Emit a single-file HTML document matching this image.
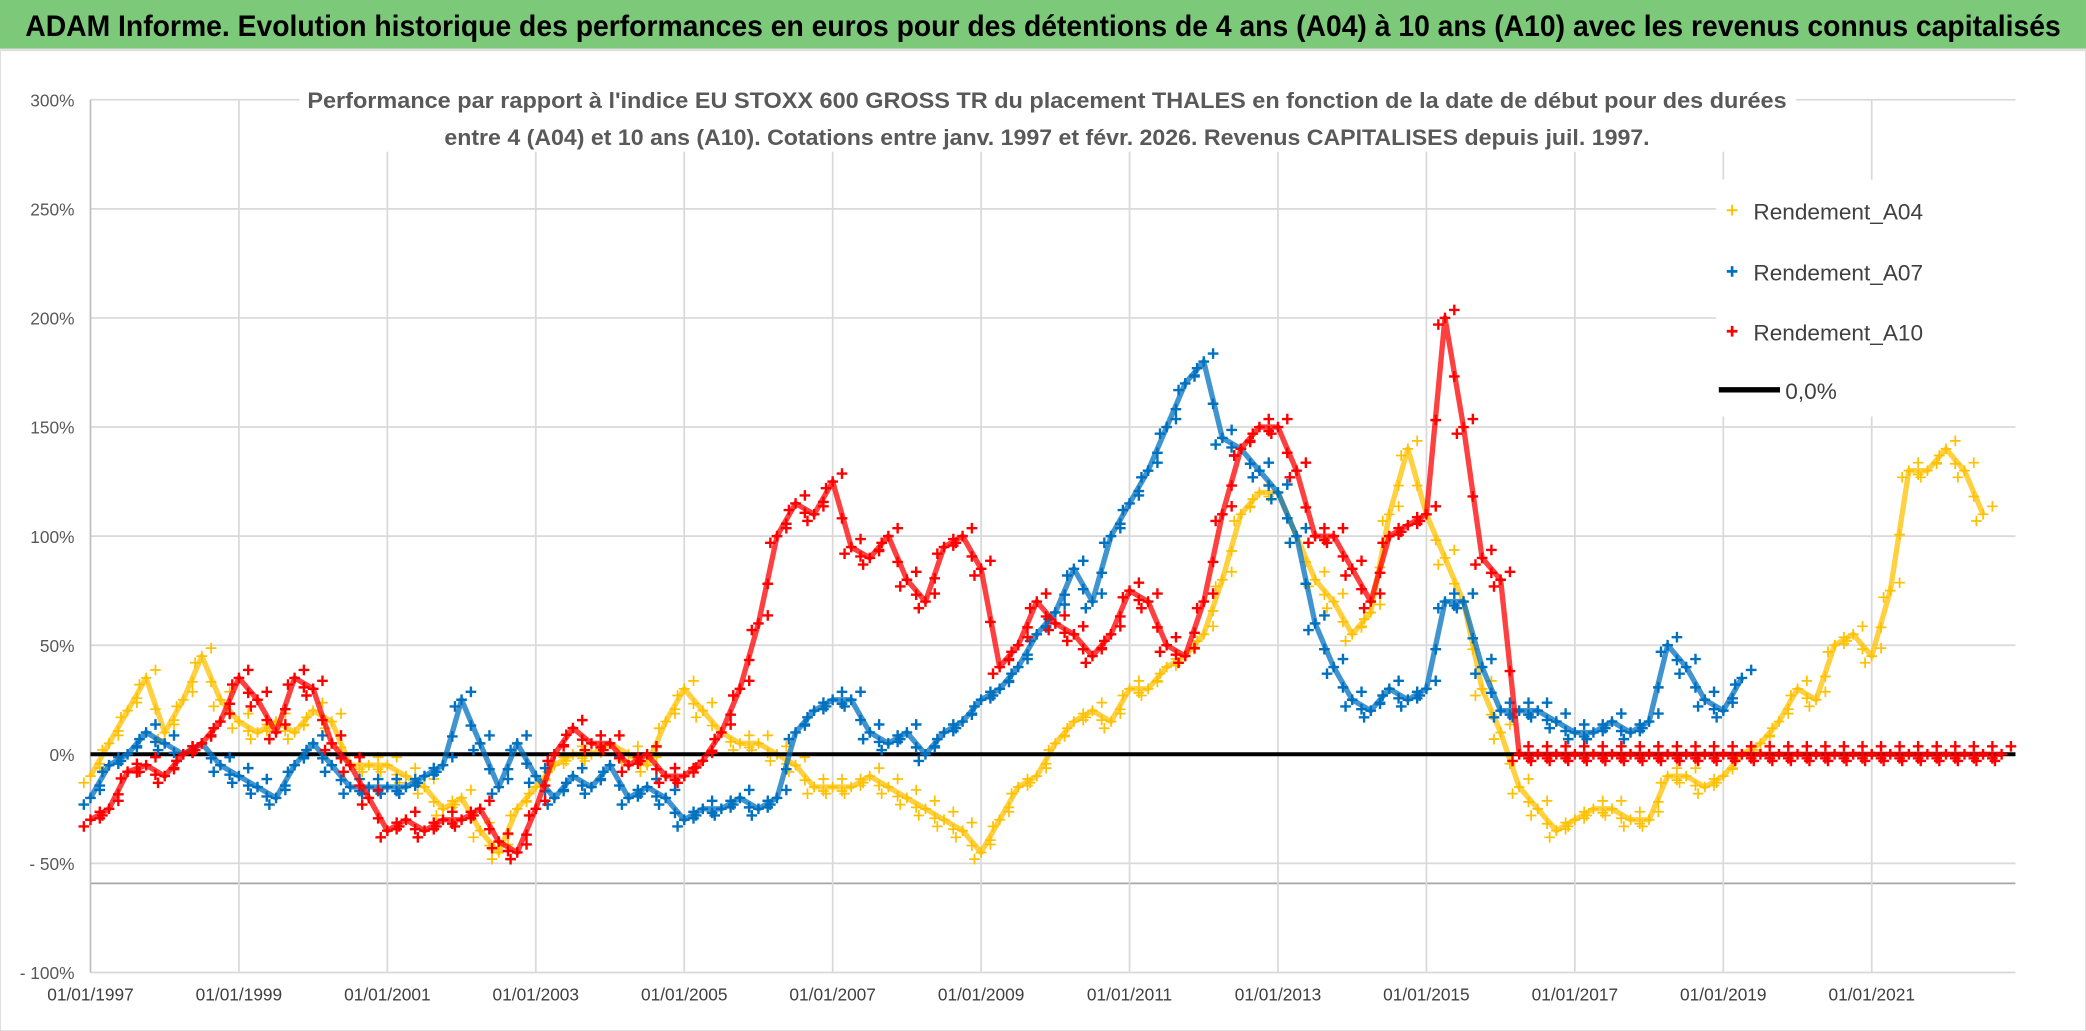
<!DOCTYPE html>
<html><head><meta charset="utf-8"><style>
html,body{margin:0;padding:0;background:#fff;}
svg{display:block;}
text{font-family:"Liberation Sans",sans-serif;}
</style></head><body>
<svg id="chart" width="2086" height="1031" viewBox="0 0 1568 775" xmlns="http://www.w3.org/2000/svg">
<rect x="0" y="0" width="1568" height="775" fill="#fff" stroke="#d0d0d0"/>
<rect x="0" y="0" width="1568" height="37" fill="#7dc97a"/>
<line x1="0" y1="37.5" x2="1568" y2="37.5" stroke="#e0e0e0" stroke-width="2"/>
<text x="784" y="27" text-anchor="middle" font-size="22" font-weight="bold" fill="#000" textLength="1530" lengthAdjust="spacingAndGlyphs">ADAM Informe. Evolution historique des performances en euros pour des détentions de 4 ans (A04) à 10 ans (A10) avec les revenus connus capitalisés</text>
<g id="grid"></g>
<g id="axes"></g>
<rect x="225" y="58" width="1125" height="56" fill="#fff"/>
<text x="787" y="81" text-anchor="middle" font-size="17" font-weight="bold" fill="#595959" textLength="1112" lengthAdjust="spacingAndGlyphs">Performance par rapport à l'indice EU STOXX 600 GROSS TR  du placement THALES en fonction de la date de début pour des durées</text>
<text x="787" y="109" text-anchor="middle" font-size="17" font-weight="bold" fill="#595959" textLength="906" lengthAdjust="spacingAndGlyphs">entre 4 (A04) et 10 ans (A10). Cotations entre janv. 1997 et févr. 2026. Revenus CAPITALISES depuis juil. 1997.</text>
<g id="series"></g>
<g>
<rect x="1290" y="135" width="226" height="178" fill="#fff"/>
<g><path d="M1298 158h8M1302 154v8" stroke="#ffc000" stroke-width="1.5"/><text x="1318" y="165" font-size="17" fill="#404040">Rendement_A04</text></g>
<g><path d="M1298 204h8M1302 200v8" stroke="#0070c0" stroke-width="2"/><text x="1318" y="211" font-size="17" fill="#404040">Rendement_A07</text></g>
<g><path d="M1298 249h8M1302 245v8" stroke="#ff0000" stroke-width="2"/><text x="1318" y="256" font-size="17" fill="#404040">Rendement_A10</text></g>
<g><line x1="1292" y1="293" x2="1338" y2="293" stroke="#000" stroke-width="4"/><text x="1342" y="300" font-size="17" fill="#404040">0,0%</text></g>
</g>
</svg>
<script>
const startYear = 1997;
const stepYears = 0.25;
const a04Values = [-10,5,20,35,10,25,45,25,15,10,15,10,20,15,-5,-5,-5,-10,-15,-25,-20,-35,-45,-25,-15,-5,0,0,5,0,-5,15,30,20,10,5,5,0,-5,-15,-15,-15,-10,-15,-20,-25,-30,-35,-45,-30,-15,-10,5,15,20,15,30,30,40,45,55,80,110,120,120,100,80,70,55,65,110,140,110,90,70,30,10,-15,-25,-35,-30,-25,-25,-30,-30,-10,-10,-15,-10,0,5,15,30,25,50,55,45,75,130,130,140,130,110];
const a07Values = [-20,-5,0,10,5,0,5,-5,-10,-15,-20,-5,5,-5,-15,-15,-15,-15,-10,-5,25,5,-15,5,-10,-20,-10,-15,-5,-20,-15,-20,-30,-25,-25,-20,-25,-20,10,20,25,25,10,5,10,0,10,15,25,30,40,55,65,85,70,100,115,130,150,170,180,145,140,130,120,100,60,40,25,20,30,25,30,70,70,40,20,20,20,15,10,10,15,10,15,50,40,25,20,35];
const a10Values = [-30,-25,-8,-5,-10,0,5,15,35,25,10,35,30,5,-5,-20,-35,-30,-35,-30,-30,-25,-40,-45,-25,0,12,5,5,-5,0,-10,-10,-3,10,30,60,100,115,110,125,95,90,100,80,70,95,100,85,40,50,70,60,55,45,55,75,70,50,45,70,110,140,150,150,130,100,100,85,70,100,105,110,200,150,90,80,0,0,0,0,0,0,0,0,0,0,0,0,0,0,0,0,0,0,0,0,0,0,0,0,0,0,0];
const yTickValues = [300,250,200,150,100,50,0,-50,-100];
const yTickLabels = ["300%","250%","200%","150%","100%","50%","0%","- 50%","- 100%"];
const xTickYears = [1997,1999,2001,2003,2005,2007,2009,2011,2013,2015,2017,2019,2021];
const xTickLabels = ["01/01/1997","01/01/1999","01/01/2001","01/01/2003","01/01/2005","01/01/2007","01/01/2009","01/01/2011","01/01/2013","01/01/2015","01/01/2017","01/01/2019","01/01/2021"];

const NS = "http://www.w3.org/2000/svg";
const X0 = 68, X1 = 1515, PXY = 55.79;
const xs = t => X0 + (t - 1997) * PXY;
const ys = v => 567 - v * 82 / 50;
function mk(tag, attrs, parent){const e=document.createElementNS(NS,tag);for(const k in attrs)e.setAttribute(k,attrs[k]);parent.appendChild(e);return e;}

const grid = document.getElementById('grid');
const axes = document.getElementById('axes');
yTickValues.forEach((v,i)=>{
  const l = mk('line',{x1:X0,x2:X1,y1:ys(v),y2:ys(v),stroke:'#d9d9d9','stroke-width':1.3},grid);
  
  
  const t = mk('text',{x:56,y:ys(v)+5,'text-anchor':'end','font-size':13,fill:'#595959'},axes);
  t.textContent = yTickLabels[i];
  
  
});
const extra = mk('line',{x1:X0,x2:X1,y1:664,y2:664,stroke:'#a6a6a6','stroke-width':1.3},grid);


xTickYears.forEach((yr,i)=>{
  const l = mk('line',{x1:xs(yr),x2:xs(yr),y1:ys(300),y2:ys(-100),stroke:i===0?'#bfbfbf':'#d9d9d9','stroke-width':1.3},grid);
  
  
  const t = mk('text',{x:xs(yr),y:752,'text-anchor':'middle','font-size':13,fill:'#404040'},axes);
  t.textContent = xTickLabels[i];
  
  
});

const series = document.getElementById('series');
function drawSeries(vals,color,name,sw){
  const g = mk('g',{},series);
  
  
  const pts = vals.map((v,i)=>[xs(startYear+i*stepYears),ys(v)]);
  mk('polyline',{points:pts.map(p=>p.join(',')).join(' '),fill:'none',stroke:color,'stroke-width':4,'stroke-linejoin':'round','stroke-opacity':0.75},g);
  let d='';
  pts.forEach((p,i)=>{
    d+=`M${p[0]-4} ${p[1]}h8M${p[0]} ${p[1]-4}v8M${p[0]+3} ${p[1]-6}h8M${p[0]+7} ${p[1]-10}v8M${p[0]-9} ${p[1]+5}h8M${p[0]-5} ${p[1]+1}v8`;
    if(i<pts.length-1){const q=pts[i+1];const mx=(p[0]+q[0])/2,my=(p[1]+q[1])/2;d+=`M${mx-4} ${my+3}h8M${mx} ${my-1}v8`;}
  });
  mk('path',{d:d,stroke:color,'stroke-width':sw,fill:'none'},g);
}
drawSeries(a04Values,'#ffc000','series-rendement-a04',1.3);
const zero = mk('line',{x1:X0,x2:X1,y1:ys(0),y2:ys(0),stroke:'#000','stroke-width':3},series);


drawSeries(a07Values,'#0070c0','series-rendement-a07',1.8);
drawSeries(a10Values,'#ff0000','series-rendement-a10',1.8);
</script>
</body></html>
